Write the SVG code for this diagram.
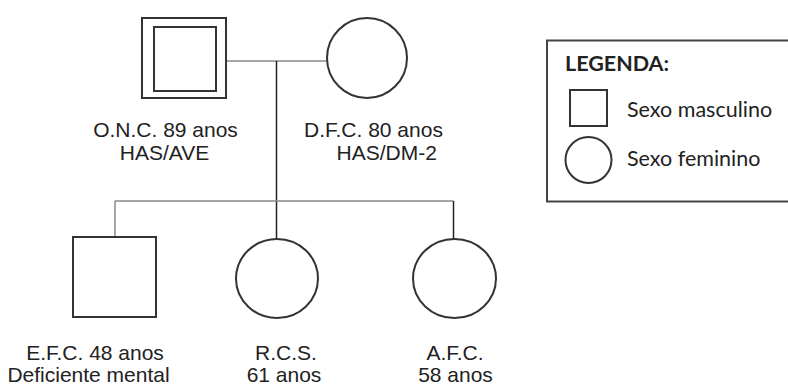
<svg xmlns="http://www.w3.org/2000/svg" width="788" height="385" viewBox="0 0 788 385">
<style>
.sym{fill:#fff;stroke:#333;stroke-width:2}
.ln{fill:none;stroke:#888;stroke-width:1.5}
.dk{fill:none;stroke:#222;stroke-width:1.5}
.t{font-family:"Liberation Sans",Arial,sans-serif;font-size:21px;fill:#222}
.lg{font-family:Lato,"Open Sans",sans-serif;font-size:21.5px;fill:#222}
</style>
<rect width="788" height="385" fill="#fff"/>
<g id="connectors">
<line class="ln" x1="226" y1="61" x2="327" y2="61"/>
<line class="dk" x1="276.5" y1="61" x2="276.5" y2="239"/>
<line class="ln" x1="115" y1="201" x2="453.5" y2="201"/>
<line class="ln" x1="115" y1="201" x2="115" y2="237"/>
<line class="dk" x1="453.5" y1="201" x2="453.5" y2="239"/>
</g>
<g id="onc">
<rect class="sym" x="142" y="18" width="84" height="80"/>
<rect class="sym" x="154" y="27" width="62" height="64"/>
<text class="t" x="165.5" y="136.5" text-anchor="middle">O.N.C. 89 anos</text>
<text class="t" x="164.5" y="159.5" text-anchor="middle">HAS/AVE</text>
</g>
<g id="dfc">
<circle class="sym" cx="367" cy="58" r="40"/>
<text class="t" x="304" y="136.5">D.F.C. 80 anos</text>
<text class="t" x="336.5" y="159.5">HAS/DM-2</text>
</g>
<g id="efc">
<rect class="sym" x="73" y="237" width="83" height="80"/>
<text class="t" x="95" y="360" text-anchor="middle">E.F.C. 48 anos</text>
<text class="t" x="88.5" y="382" text-anchor="middle">Deficiente mental</text>
</g>
<g id="rcs">
<ellipse class="sym" cx="277" cy="278.5" rx="41" ry="39.5"/>
<text class="t" x="286" y="360" text-anchor="middle">R.C.S.</text>
<text class="t" x="284" y="382" text-anchor="middle">61 anos</text>
</g>
<g id="afc">
<ellipse class="sym" cx="454.5" cy="278.5" rx="41.5" ry="39.5"/>
<text class="t" x="455" y="360" text-anchor="middle">A.F.C.</text>
<text class="t" x="455.5" y="382" text-anchor="middle">58 anos</text>
</g>
<g id="legenda">
<rect x="547" y="40.5" width="250" height="161" fill="#fff" stroke="#444" stroke-width="2"/>
<text class="lg" x="565" y="71" font-weight="bold" font-size="20">LEGENDA:</text>
<rect class="sym" x="570" y="90" width="37" height="36"/>
<text class="lg" x="627" y="117">Sexo masculino</text>
<circle class="sym" cx="588.5" cy="160" r="23"/>
<text class="lg" x="627" y="166">Sexo feminino</text>
</g>
</svg>
